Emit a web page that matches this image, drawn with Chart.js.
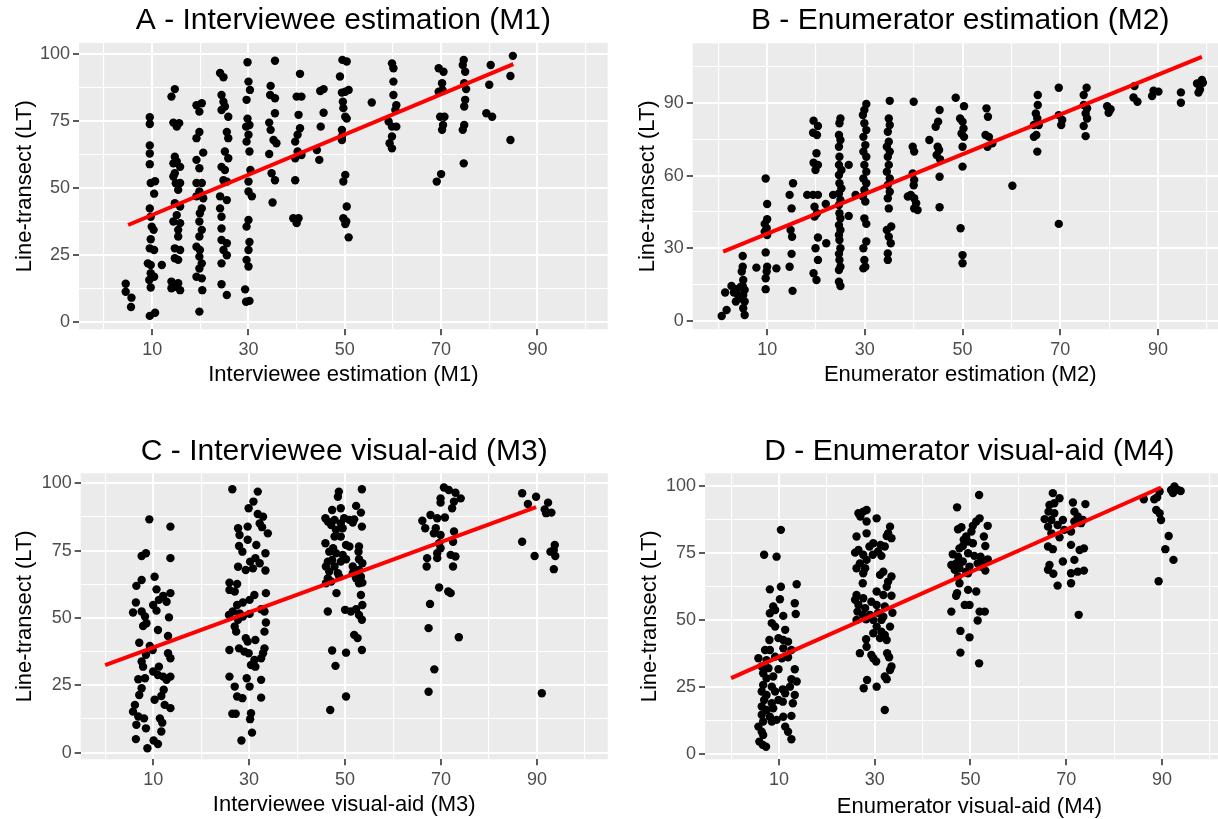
<!DOCTYPE html>
<html>
<head>
<meta charset="utf-8">
<script src="https://cdn.jsdelivr.net/npm/chart.js@4.4.1/dist/chart.umd.min.js"></script>
<style>
    html, body { margin: 0; padding: 0; background: #fff; overflow: hidden; width: 1218px; height: 819px; }
    canvas { position: absolute; }
</style>
</head>
<body>
<canvas id="chartA"></canvas>
<canvas id="chartB"></canvas>
<canvas id="chartC"></canvas>
<canvas id="chartD"></canvas>
<script>
// ---- Data: [method estimate (%), line-transect (%)] ----
const pointsA = [
    [4.5,14.4],[4.5,11.4],[5.7,9.2],[5.6,5.7],
    [9.5,76.5],[9.5,74],[9.5,66],[9.5,63],[9.5,59],[9.7,52],[10.6,52.6],[10.4,48],[9.5,42.5],[9.7,39.4],[9.9,35.7],[10.3,34.5],[9.7,31],[9.5,27.6],[10.4,27],[9.1,22],[9.7,21.4],[9.7,18.3],[10.4,17],[9.4,15.8],[9.7,13],[9.5,2.4],[10.6,3.6],[12,21.4],
    [14.7,87],[14.0,84.2],[14.4,74.5],[15.6,74.3],[15.1,73],[14.7,61.8],[15.1,60],[14.4,59.3],[15.8,58],[14.7,55.6],[14.4,54.4],[14.9,51.9],[15.8,52],[15.4,49.4],[14.7,44.4],[15.8,43.2],[15.1,40],[14.4,37.6],[15.8,37],[15.4,34.5],[15.4,32],[14.7,27.6],[15.8,27],[14.7,23.9],[15.4,23.3],[14.0,15.2],[15.4,14.6],[14.7,13.3],[14.0,12.7],[15.8,12],
    [19.2,81],[20.3,81.7],[19.8,78.6],[19.8,71],[19.2,68.7],[20.6,63.3],[19.2,60.6],[19.8,57.5],[19.2,52],[20.3,52],[19.8,48.8],[19.2,47],[20.6,46.3],[20.3,42.5],[19.9,40.7],[19.8,37.6],[20.3,34.5],[19.8,32],[19.2,28.2],[19.9,27],[19.8,24.5],[20.3,22],[19.8,20.1],[19.2,17],[20.3,16.4],[20.4,12],[19.8,4],
    [24.1,93],[24.8,91.4],[24.4,84.8],[24.8,82.3],[25.1,80.5],[24.4,79.2],[25.8,76.7],[25.5,71],[25.8,68.7],[25.1,63.7],[25.8,61.2],[24.4,58],[25.1,56.8],[24.8,53],[25.5,52.5],[24.1,47],[25.5,45.6],[24.1,42.5],[24.4,39.4],[24.4,35],[24.4,30.7],[25.5,29.5],[24.8,27],[25.5,25],[24.4,22],[24.4,14.2],[25.5,10.2],
    [29.8,97],[30,89.8],[30.3,86.7],[29.6,83],[29.8,76],[30.2,73.6],[29.5,73],[30,70],[29.6,67.4],[30.2,63.7],[30.4,56.8],[30,52.5],[30,48.8],[30.7,47],[30,38.2],[29.6,35.7],[30.2,30],[30,27],[29.6,23.3],[30,20.8],[29.3,12.3],[29.5,7.7],[30.2,8],
    [35.5,97.6],[34.6,88.2],[34.5,84.8],[35.5,83.6],[35.5,78],[34.3,74.5],[34.6,71.8],[35.2,68],[35.8,66.8],[34.3,62.8],[34.8,55.6],[35.5,53],[35,44.7],
    [40.7,92.7],[40,84.2],[41,84.2],[40.4,77.4],[40.7,72.4],[40.2,70],[39.7,67.4],[40.2,63.7],[41,62.4],[39.7,61.2],[39.7,53],[39.3,38.8],[40.4,38.8],[40,37],
    [44.9,86.3],[45.6,87],[45.6,78.2],[45,73],[44.2,64.3],[44.7,60.6],
    [49.5,97.9],[50.4,97.3],[49,91.7],[49.4,85.7],[50.1,86],[50.8,86.7],[49.6,82.3],[49.7,79.9],[50.1,76.7],[50.4,76],[49.4,71.8],[49.4,69.3],[49.4,68],[50.1,55],[49.7,52.5],[50.4,43.2],[49.7,38.8],[50.3,37.6],[50.1,36.7],[50.8,31.7],
    [55.6,82],
    [59.8,96.6],[60.1,94.8],[60.1,89.8],[60.1,84.8],[60.7,81],[60.5,79.2],[59.1,74.9],[59.8,73],[60.7,73],[59.8,69.3],[59.3,66.8],[59.8,64.9],
    [69.5,94.8],[70.5,93.5],[70.2,89.2],[69.5,86],[70.3,86.7],[69.8,76.7],[70.7,76.7],[70.4,73.6],[70.2,71.8],[69.1,52.5],[70,55.3],
    [74.7,97.9],[74.5,96],[75,93.5],[74.8,89.2],[75.2,87],[75,83],[74.8,80.5],[74.8,73.6],[74.5,71.8],[74.7,59.3],
    [80.3,96],[80,88.6],[79.4,78],[80.6,76.7],
    [84.9,99.4],[84.4,91.9],[84.4,68]
];
const fitA = [[5, 36.3], [85, 96.3]];

const pointsB = [
    [0.7,1.9],[1.7,4.4],[1.4,11.6],[2.7,14.3],[3.2,11.6],[3.6,13],[3.6,7.9],[4.1,10.6],[4.6,14],[5,26.7],[5,22.3],[4.8,20.3],[5.1,16.8],[5,14.3],[5.4,12.7],[5.1,10.6],[5.4,7.9],[5.1,5.1],[5.4,2.3],[4.6,9.2],
    [7.8,21.9],
    [9.7,58.8],[10,48.2],[10,41.9],[9.5,40],[9.9,38.2],[9.5,36.8],[10,35.4],[9.7,28.2],[10,22.3],[9.9,20.3],[9.7,17.5],[9.7,13],[11.9,21.6],
    [15.3,56.8],[14.6,52],[15,46.4],[14.8,37.5],[15.1,34.7],[15,27.6],[14.6,22.3],[15.2,12.3],
    [18.2,52],
    [19.5,82.7],[20.4,80.5],[19.4,77.7],[20.2,76.8],[20.1,69.2],[19.5,65.3],[20.4,64.4],[19.9,62.3],[19.4,52],[20.4,52],[19.7,47.1],[20.2,44.4],[19.7,43],[20.4,34.4],[19.9,29.9],[20.4,25.1],[19.5,19.6],[20.1,16.8],
    [22,48.2],[22.1,32],[23.5,52],
    [25,83.6],[24.8,81.6],[24.7,76.8],[25,74.7],[24.7,71.9],[24.8,67.8],[24.7,64.4],[25.2,62.3],[24.7,60.2],[24.8,56.8],[25.2,54.7],[24.7,52.6],[25,49.9],[24.7,47.8],[24.8,44.4],[25,42.3],[24.7,39.5],[25,37.5],[24.7,35.4],[24.8,33.3],[25,29.9],[24.7,27.6],[24.8,25.1],[25,22.3],[24.7,20.9],[24.7,16.1],[25,14.3],
    [26.7,64.4],[26.7,43.3],[28.1,52],
    [30.3,89.6],[29.9,87.1],[29.6,85],[29.9,81.6],[30.3,78.8],[29.7,76],[30.1,72.6],[29.7,69.9],[30.3,67.8],[29.9,64.4],[30.3,61.6],[29.7,58.8],[30.3,56.8],[29.9,54],[29.6,51.3],[30.1,49.2],[29.9,42.3],[30.3,40],[29.7,29.9],[30.3,32.7],[29.9,25.1],[30.1,22.3],[29.7,21.6],
    [35.1,90.9],[34.9,83.6],[35.1,80.9],[34.7,78.1],[34.9,74],[34.5,71.9],[35.1,69.9],[34.7,67.8],[34.9,64.4],[34.5,61.6],[35.1,58.8],[34.7,56.1],[35.1,53.3],[34.7,50.6],[34.9,46.4],[34.5,37.5],[35.4,38.9],[34.9,34.7],[35.3,32],[34.7,27.8],[34.7,25.1],
    [40,90.5],[39.8,71.9],[40.1,69.9],[39.8,60.9],[40.1,58.2],[40,56],[39.4,52],[38.8,51.3],[40.1,50.6],[40.1,46.4],[40.5,48.5],[40.8,45.7],
    [43.2,74.7],
    [45.3,87.1],[45,82.3],[44.5,80.2],[44.9,71.9],[45.2,70.6],[44.7,68.5],[45.4,66.7],[45.3,59.5],[45.3,46.9],
    [48.6,92.2],
    [50.3,88.7],[49.5,83.6],[50,82.3],[50.2,79.5],[49.8,77.4],[50.3,76],[50,71.9],[50,63.7],[49.6,38.2],[50,27.1],[50,23.7],
    [54.9,87.8],[55.2,84.3],[54.7,76.8],[55.4,76],[55.1,71.9],[56.1,73.3],
    [60.2,55.8],
    [65.4,93.3],[65.4,89.2],[65,85.7],[65.3,83.6],[64.6,80.9],[65.6,80.9],[65.1,76.8],[64.6,76],[65.3,69.9],
    [69.7,96.3],[69.7,85],[70.4,83],[70.2,80.9],[69.7,40],
    [75.4,96.3],[74.8,93.3],[74.8,89.2],[75.5,87.8],[75.2,85.7],[75.5,83.6],[74.8,80.5],[75.2,76.3],
    [79.6,88.7],[80.3,87.4],[79.9,86],
    [85.2,97],[85,92.3],[85.8,90.5],
    [89.1,95.1],[88.8,92.9],[90.1,94.7],
    [94.7,94.4],[94.7,90.1],
    [98,98.1],[99,99.5],[98.6,95.6],[98.3,94.3],[99.2,98.4]
];
const fitB = [[1, 28.5], [99, 109.1]];

const pointsC = [
    [9.2,86.6],[7.6,73],[8.5,74],[10.3,65.3],[7.6,64.1],[6.5,61.9],[10.7,60.6],[13.6,83.9],[13.6,72.2],[13.6,59.2],[6.4,55.7],[11.2,56.7],[12.1,58.2],[10,54.8],[12.8,56],[10.7,52.7],[5.8,52],[7.6,52.4],[8.3,50.5],[7.9,47],[8.6,48],[13.3,50.2],[13.1,43.3],[11,45.5],[7.1,40.8],[9.3,39.6],[9.9,38.1],[8.5,36.3],[13.1,36.9],[13.6,35],[7.6,33.8],[7.9,31.9],[11.2,31.9],[10,30.1],[11,28.8],[12.1,28.2],[13.6,28.2],[12.8,27],[6.9,27.2],[8.3,27.6],[7.6,23.9],[7.1,21.4],[12.2,23.3],[11.7,21],[10.3,19.6],[12.4,17.7],[13.6,16.5],[6.2,17.7],[5.8,15.2],[6.9,13.4],[8.1,12.7],[11.4,12.7],[11.9,11.1],[6.5,10.3],[8.5,9],[11.7,7.8],[6.4,5],[10.1,4.5],[11,3.2],[8.8,1.6],
    [26.5,97.8],[31.8,96.9],[30.9,93.2],[29.9,90.7],[31.8,88.6],[32.9,87.6],[32.2,85.1],[27.7,83.3],[29.7,83.9],[32.7,83.7],[33.9,81.4],[28,80.8],[27.9,76.7],[29.7,79],[31.5,77.1],[33.4,74],[28.6,74.6],[31.3,72.2],[30.2,70.9],[32.2,70.3],[27.7,69],[29.3,67.8],[30.8,68.4],[33.4,67.6],[25.9,63.1],[27.5,62.6],[25.9,60.4],[27,59.8],[33.5,59.2],[31.1,58.5],[30.1,56.7],[28.7,55.7],[27.5,54.8],[26.6,52.4],[28,51.7],[30.1,51.5],[32.5,53.2],[33.2,52.4],[25.8,51.1],[28.7,50.5],[27.7,49.3],[27,46.8],[27.3,44.9],[33.5,48.3],[33.2,44.9],[29.3,42.5],[29.7,41.2],[31.3,41.8],[25.9,38.1],[27.9,38.7],[29,37.5],[29.9,36.9],[33.2,38.7],[31.1,34.4],[32.5,35],[32.9,36.9],[30.4,32.5],[31.3,31.9],[25.9,28.2],[29.5,27.6],[30.1,24.5],[32.5,27],[27,24.5],[27.5,20.8],[28.6,20.2],[32.5,20.4],[26.5,14.4],[27.2,14.4],[30.4,14.6],[30.2,12.4],[30.6,7.4],[28.4,4.5],
    [48.7,96.9],[48.5,95],[53.5,97.8],[47.3,90.1],[49.1,90.7],[52.3,91.6],[53.3,89.1],[45.9,87],[46.4,85.8],[47.8,86.4],[49.8,87],[50.9,86.4],[51.9,86.6],[47.1,84.5],[49.1,85.1],[51.6,85.4],[53.5,83.9],[48.1,82.7],[49.5,83.3],[47.8,80.2],[49.1,80.2],[45.9,77.7],[50.2,77.1],[50.9,76.5],[52.9,76.5],[47.5,75.9],[46.7,74.6],[48.1,74],[49.5,73.4],[52.8,74.6],[46.4,70.9],[47.3,71.5],[50.2,71.8],[52.9,71.8],[53.6,70.3],[46,69.1],[47.8,69.1],[49.1,70.9],[46.7,67.2],[48.5,66.6],[51.6,69.1],[52.9,67.8],[46.4,64.7],[48.8,65.3],[51.6,66.6],[53.3,65.3],[46,62.9],[47.1,63.5],[52.3,64.7],[52.9,62.9],[53.6,63.1],[48.2,59.2],[53.3,58.5],[46.4,52.4],[50,53],[51.2,52.4],[52.3,53.2],[53.6,54.8],[52.9,51.1],[53.5,49.3],[51.9,43.7],[52.6,42.5],[53.5,38.1],[47.3,37.9],[50.2,37.1],[48,32.2],[50.2,20.8],[46.9,15.8],
    [70.6,98.4],[71.6,97.5],[73,96.5],[74.1,94.4],[69.9,94.4],[69.9,92.8],[72.7,93.2],[72.3,90.7],[67.8,88.2],[69.2,87],[70.8,87.3],[66.1,86.1],[66.7,83.3],[68.9,83.3],[68.5,81.4],[69.9,80.8],[72.7,82.1],[69.6,77.7],[69.9,75.9],[72.5,78.3],[69.2,74],[67.1,72.2],[69.2,72.2],[72,73.4],[73,72.8],[67,69.1],[72.5,69.1],[69.6,61.3],[71.5,59.8],[72,59.2],[67.7,55.2],[67.4,46.2],[73.7,42.8],[68.6,30.9],[67.4,22.6],
    [86.9,96.3],[89.8,95],[88.1,92.3],[92.3,92.8],[91.6,90.3],[93,89.1],[91.9,88.9],[86.9,78.3],[93.7,77.1],[93.5,75.2],[92.8,74.6],[93.8,73],[89.5,73],[93.5,68.1],[91,22]
];
const fitC = [[0, 32.5], [89.8, 91.1]];

const pointsD = [
    [10.4,83.6],[6.9,74.3],[9.5,73.6],[8.1,61.4],[10.4,62.4],[13.7,63.3],[10.2,57.7],[13.3,56.2],[8.8,55],[9.2,53.7],[8.1,52.5],[10.9,51.5],[13.5,52.2],[8.5,48.8],[9.2,47.5],[11.3,46.3],[8,42.5],[9.9,43.2],[10.9,42.5],[11.9,41.9],[7.1,38.8],[8.1,38.8],[10.9,39.4],[12.6,38.8],[5.7,35.7],[7.4,35],[9.2,36.3],[10.6,35.7],[11.9,36.1],[6.4,32.6],[7.8,32],[9.9,31.6],[13.3,31.6],[6.7,30.1],[7.4,28.2],[8.8,28.9],[12.6,27.9],[13.7,27],[6.7,25.7],[8.5,25.1],[10.8,24.1],[12.3,25.1],[6.4,23.3],[7.4,22],[9.2,23.3],[11.3,22.6],[13.3,22],[6.9,20.1],[8.5,18.9],[9.9,20.1],[10.8,19.5],[12.9,18.9],[6.4,17.7],[7.4,16.4],[8.8,17],[6.4,14.6],[8.1,13.9],[10.9,13.9],[12.6,14.2],[6.7,12.1],[8.5,12.1],[9.5,12.7],[5.7,10.2],[6.4,8.3],[11.3,10.2],[11.9,8.3],[6.7,7.1],[12.6,5.5],[5.9,4.6],[6.6,3.4],[7.3,2.7],
    [26.6,89.8],[27.6,90.4],[28.3,91],[27,88.6],[30.4,87.9],[28.3,86.7],[33.2,84.8],[32.8,82.3],[33.5,80.5],[32.5,81.3],[26.2,81.1],[28.3,82.3],[29.7,78.6],[28.9,77.4],[31.2,78],[32.1,77.4],[30.7,75.5],[26.6,76.1],[25.9,75.1],[27.6,74.3],[29.6,74.3],[31.4,73.9],[28.3,72.4],[26.9,71.1],[28,69.3],[26.2,69.3],[27.6,67.4],[31.8,68],[31.1,66.8],[33.5,66.2],[32.8,64.3],[27.5,63.7],[32.5,62.4],[30.4,60.6],[31.8,59.3],[33.5,59],[26.2,59.3],[25.9,57.5],[27.6,58.1],[29.3,56.8],[26.6,55.6],[28,54.4],[30.4,55.6],[32.1,55],[26.4,53.1],[27.5,51.9],[29,51.9],[30.7,52.7],[31.8,51.2],[33.7,52.7],[28.2,50.2],[29.7,50],[31.4,50],[26.2,50],[30.4,47.5],[33.2,47.5],[31.4,45.6],[32.1,44.4],[29.7,45],[28.2,42.8],[31.1,43.2],[32.5,42.5],[28.3,40],[26.9,37.6],[29.3,36.9],[32.6,37.6],[33,36.1],[29.7,35.7],[30.3,34.5],[33.5,32.6],[33.2,31.3],[32.1,28.9],[32.5,27.9],[28.4,27.6],[27.7,24.5],[30.4,25.1],[32.1,16.4],
    [51.8,96.6],[47.2,92],[51.9,87.9],[51.2,86.7],[53.6,85.1],[50.5,85.1],[47.4,83.8],[48.1,84.6],[50.2,83],[49.1,81.1],[52.8,81.1],[48.6,79.9],[49.5,79.2],[47.7,76.7],[48.4,77.6],[50.5,78.6],[53.1,77.6],[46.3,74.5],[47.4,73.6],[49.5,74.9],[50.8,73.9],[52.1,73.6],[53.6,72.6],[46,70.5],[47,71.1],[48.4,71.8],[49.8,69.9],[51.5,71.1],[52.8,71.8],[46.7,68.7],[47.7,69.3],[49.1,68],[52.1,69.9],[53.1,68.4],[49.5,67.4],[47.4,66.2],[47.7,63.7],[49.5,61.2],[51.2,60.6],[47.2,60],[47,59],[48.8,55.6],[49.8,55.6],[46,53.1],[51.9,53.1],[53,53.1],[51.5,49.8],[47.9,45.9],[49.8,43.5],[47.9,37.8],[51.8,33.8],
    [67.2,97.3],[68.6,95.4],[66.5,92.9],[67.5,93.5],[71.4,93.8],[74,93.2],[66.3,90.4],[67.5,89.8],[71.7,90.4],[65.5,87.6],[66.9,87.3],[69.3,87.3],[72.4,88.6],[73.5,87.3],[66.2,84.8],[68.2,85.4],[69.6,83.6],[71.7,86.7],[73.1,86.1],[71,83],[66.9,82.3],[68.6,80.8],[66.2,77.4],[67.2,76.4],[71,78],[73.7,76.7],[72.8,76.1],[71.7,72.4],[69.3,71.8],[66.5,70.5],[66.2,68.7],[67.3,67.2],[71,67.4],[72.4,68],[73.7,68.4],[68.2,62.8],[71,63.7],[72.6,51.9],
    [92.6,99.8],[93.3,98.5],[93.9,98.1],[92.3,97.3],[91.9,98.5],[89.5,97.9],[89,95.8],[88.4,95],[86.2,95],[88.8,91],[89.5,89.8],[89.8,87.3],[91.4,81.3],[90.7,76.4],[92.4,72.4],[89.3,64.4]
];
const fitD = [[0, 28.3], [89.8, 99.4]];

// ---- Ticks ----
const xTicks = [0, 10, 20, 30, 40, 50, 60, 70, 80, 90, 100];
const xMajor = [10, 30, 50, 70, 90];
const yTicksPct = [0, 12.5, 25, 37.5, 50, 62.5, 75, 87.5, 100];
const yMajorPct = [0, 25, 50, 75, 100];
const yTicksB = [0, 15, 30, 45, 60, 75, 90, 105];
const yMajorB = [0, 30, 60, 90];

const titles = ['A - Interviewee estimation (M1)', 'B - Enumerator estimation (M2)',
                'C - Interviewee visual-aid (M3)', 'D - Enumerator visual-aid (M4)'];
const xLabels = ['Interviewee estimation (M1)', 'Enumerator estimation (M2)',
                 'Interviewee visual-aid (M3)', 'Enumerator visual-aid (M4)'];
const yLabel = 'Line-transect (LT)';

// ---- Layout (page pixels) ----
const FONT = '"Liberation Sans", Arial, sans-serif';
const panels = [
    { id: 'chartA', pts: pointsA, fit: fitA, yTicks: yTicksPct, yMajor: yMajorPct,
      box: { x: 0, y: 0, w: 612, h: 410 }, area: { l: 79, t: 43, r: 607.7, b: 329.3 },
      xRange: [-5.2, 104.6], yRange: [-2.6, 104.2], yTitleX: 25, xTitleY: 375, titleY: 21 },
    { id: 'chartB', pts: pointsB, fit: fitB, yTicks: yTicksB, yMajor: yMajorB,
      box: { x: 612, y: 0, w: 620, h: 410 }, area: { l: 692.7, t: 43.3, r: 1229, b: 329.3 },
      xRange: [-5.24, 104.3], yRange: [-3.6, 114.7], yTitleX: 648, xTitleY: 375, titleY: 21 },
    { id: 'chartC', pts: pointsC, fit: fitC, yTicks: yTicksPct, yMajor: yMajorPct,
      box: { x: 0, y: 410, w: 612, h: 409 }, area: { l: 80.7, t: 473.3, r: 609.3, b: 759.3 },
      xRange: [-5.1, 104.75], yRange: [-2.5, 103.7], yTitleX: 25, xTitleY: 805, titleY: 451.7 },
    { id: 'chartD', pts: pointsD, fit: fitD, yTicks: yTicksPct, yMajor: yMajorPct,
      box: { x: 612, y: 410, w: 626, h: 409 }, area: { l: 705, t: 473.3, r: 1234.7, b: 759.3 },
      xRange: [-5.45, 105], yRange: [-2, 104.7], yTitleX: 650, xTitleY: 806.5, titleY: 452 },
];

// ggplot-style grey panel
const panelBg = {
    id: 'panelBg',
    beforeDraw(chart) {
        const a = chart.chartArea;
        chart.ctx.save();
        chart.ctx.fillStyle = '#EBEBEB';
        chart.ctx.fillRect(a.left, a.top, a.right - a.left, a.bottom - a.top);
        chart.ctx.restore();
    }
};

// Title centred over the panel
const panelTitle = {
    id: 'panelTitle',
    afterDraw(chart, args, opts) {
        const a = chart.chartArea;
        const ctx = chart.ctx;
        ctx.save();
        ctx.font = '30px ' + FONT;
        ctx.fillStyle = '#000';
        ctx.textAlign = 'center';
        ctx.textBaseline = 'middle';
        ctx.fillText(opts.text, (a.left + a.right) / 2, opts.y);
        ctx.restore();
    }
};

function gridOpts(major) {
    return {
        color: '#FFFFFF',
        lineWidth: c => (c.tick && major.includes(c.tick.value)) ? 2 : 1.1,
        tickColor: c => (c.tick && major.includes(c.tick.value)) ? '#333333' : 'rgba(0,0,0,0)',
        tickLength: 6,
        tickWidth: 1.6,
    };
}

panels.forEach((p, i) => {
    const canvas = document.getElementById(p.id);
    canvas.width = p.box.w;
    canvas.height = p.box.h;
    canvas.style.left = p.box.x + 'px';
    canvas.style.top = p.box.y + 'px';

    new Chart(canvas, {
        type: 'scatter',
        data: {
            datasets: [
                {
                    data: p.fit.map(([x, y]) => ({ x, y })),
                    showLine: true,
                    borderColor: '#FF0000',
                    borderWidth: 4,
                    pointRadius: 0,
                    order: 0,
                },
                {
                    data: p.pts.map(([x, y]) => ({ x, y })),
                    backgroundColor: '#000000',
                    borderWidth: 0,
                    pointRadius: 4.2,
                    order: 1,
                },
            ],
        },
        options: {
            responsive: false,
            animation: false,
            devicePixelRatio: 1,
            layout: {
                padding: {
                    left: 0,
                    top: p.area.t - p.box.y,
                    right: p.box.x + p.box.w - p.area.r,
                    bottom: 0,
                },
            },
            plugins: {
                legend: { display: false },
                tooltip: { enabled: false },
                panelTitle: { text: titles[i], y: p.titleY - p.box.y },
            },
            scales: {
                x: {
                    type: 'linear',
                    min: p.xRange[0],
                    max: p.xRange[1],
                    afterBuildTicks: s => { s.ticks = xTicks.map(v => ({ value: v })); },
                    afterFit: s => { s.height = p.box.y + p.box.h - p.area.b; },
                    grid: gridOpts(xMajor),
                    border: { display: false },
                    ticks: {
                        autoSkip: false,
                        maxRotation: 0,
                        padding: 4,
                        color: '#4D4D4D',
                        font: { family: FONT, size: 18 },
                        callback: v => xMajor.includes(v) ? String(v) : '',
                    },
                    title: {
                        display: true,
                        text: xLabels[i],
                        color: '#000',
                        font: { family: FONT, size: 22, lineHeight: 1 },
                        padding: { top: 0, bottom: p.box.y + p.box.h - p.xTitleY - 11 },
                    },
                },
                y: {
                    type: 'linear',
                    min: p.yRange[0],
                    max: p.yRange[1],
                    afterBuildTicks: s => { s.ticks = p.yTicks.map(v => ({ value: v })); },
                    afterFit: s => { s.width = p.area.l - p.box.x; },
                    grid: gridOpts(p.yMajor),
                    border: { display: false },
                    ticks: {
                        autoSkip: false,
                        padding: 3,
                        color: '#4D4D4D',
                        font: { family: FONT, size: 18 },
                        callback: v => p.yMajor.includes(v) ? String(v) : '',
                    },
                    title: {
                        display: true,
                        text: yLabel,
                        color: '#000',
                        font: { family: FONT, size: 22, lineHeight: 1 },
                        padding: { top: p.yTitleX - p.box.x - 11, bottom: 0 },
                    },
                },
            },
        },
        plugins: [panelBg, panelTitle],
    });
});
</script>
</body>
</html>
